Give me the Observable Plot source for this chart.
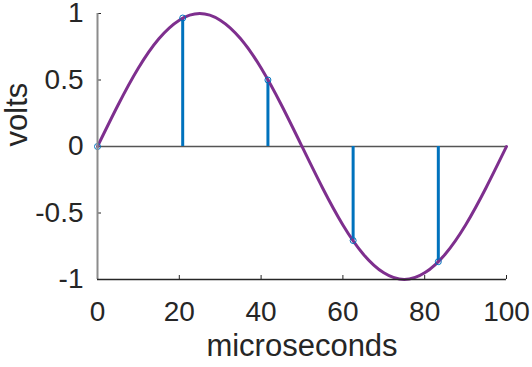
<!DOCTYPE html>
<html>
<head>
<meta charset="utf-8">
<script src="https://cdn.jsdelivr.net/npm/d3@7"></script>
<script src="https://cdn.jsdelivr.net/npm/@observablehq/plot@0.6"></script>
<style>
  html, body { margin: 0; padding: 0; background: #fff; }
  svg { font-family: "Liberation Sans", Arial, sans-serif; }
</style>
</head>
<body>
<div id="chart"></div>
<script>
// Continuous sine wave (microseconds, volts)
const curveT = [0, 5, 10, 15, 20, 25, 30, 35, 40, 45, 50, 55, 60, 65, 70, 75, 80, 85, 90, 95, 100];
const curveV = [0, 0.31, 0.59, 0.81, 0.95, 1, 0.95, 0.81, 0.59, 0.31, 0, -0.31, -0.59, -0.81, -0.95, -1, -0.95, -0.81, -0.59, -0.31, 0];

// Sampled stems
const stemT = [0, 20.83, 41.67, 62.5, 83.33];
const stemV = [0, 0.966, 0.5, -0.707, -0.866];

// Tick values
const xTicks = [0, 20, 40, 60, 80, 100];
const yTicks = [-1, -0.5, 0, 0.5, 1];

const curve = curveT.map((t, i) => ({t, v: curveV[i]}));
const stems = stemT.map((t, i) => ({t, v: stemV[i]}));

const W = 532, H = 367;
const mL = 97, mR = 26, mT = 13, mB = 88;
const pw = W - mL - mR, ph = H - mT - mB;
const ink = "#262626";

const chart = Plot.plot({
  width: W,
  height: H,
  marginLeft: mL,
  marginRight: mR,
  marginTop: mT,
  marginBottom: mB,
  style: {fontFamily: "'Liberation Sans', Arial, sans-serif", color: ink, background: "#fff", overflow: "visible"},
  x: {domain: [0, 100]},
  y: {domain: [-1, 1]},
  marks: [
    Plot.axisX(xTicks, {tickSize: 0, tickPadding: 22, fontSize: 28, label: null, tickFormat: d => String(d), color: ink}),
    Plot.axisY(yTicks, {tickSize: 0, tickPadding: 14, fontSize: 28, label: null, tickFormat: d => String(d), color: ink}),
    Plot.tickY(yTicks, {y: d => d, insetRight: pw - 4, stroke: ink, strokeWidth: 1}),
    Plot.tickX(xTicks, {x: d => d, insetTop: ph - 4, stroke: ink, strokeWidth: 1}),
    Plot.ruleY([0], {stroke: "#555", strokeWidth: 1.5}),
    Plot.ruleX(stems, {x: "t", y1: 0, y2: "v", stroke: "#0072BD", strokeWidth: 3}),
    Plot.line(curve, {x: "t", y: "v", curve: "natural", stroke: "#7E2F8E", strokeWidth: 3}),
    Plot.dot(stems, {x: "t", y: "v", r: 3, stroke: "#0072BD", strokeWidth: 1, fill: "none"}),
    Plot.ruleX([0], {stroke: "#8c8c8c", strokeWidth: 2}),
    Plot.ruleY([-1], {stroke: ink, strokeWidth: 1.5}),
    Plot.text(["microseconds"], {frameAnchor: "bottom", dy: 76, lineAnchor: "bottom", fontSize: 31, fill: ink}),
    Plot.text(["volts"], {frameAnchor: "left", dx: -92.5, rotate: -90, lineAnchor: "top", fontSize: 31, fill: ink})
  ]
});
document.getElementById("chart").appendChild(chart);
</script>
</body>
</html>
